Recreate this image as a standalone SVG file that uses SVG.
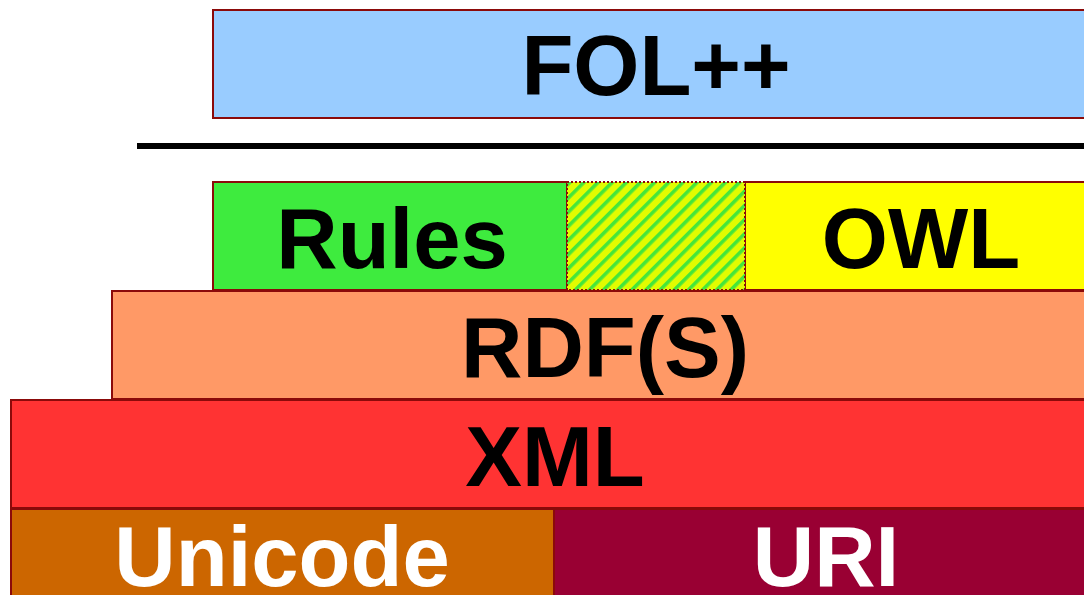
<svg xmlns="http://www.w3.org/2000/svg" width="1084" height="595" viewBox="0 0 1084 595">
  <style>
    .layer { stroke: #8b0a0a; stroke-width: 2; }
    .label { font-family: "Liberation Sans", Arial, sans-serif; font-weight: bold; font-size: 85px; text-anchor: middle; }
    .dark { fill: #000000; }
    .light { fill: #ffffff; }
  </style>
  <defs>
    <!-- diagonal green/yellow stripes for the shared Rules/OWL zone -->
    <pattern id="stripes" patternUnits="userSpaceOnUse" width="10" height="10" patternTransform="rotate(45)">
      <rect x="0" y="0" width="10" height="10" fill="#e2fc00"/>
      <rect x="0" y="0" width="3.6" height="10" fill="#45e63a"/>
    </pattern>
  </defs>
  <rect width="1084" height="595" fill="#ffffff"/>

  <g id="fol">
    <rect class="layer" x="213" y="10" width="886" height="108" fill="#99ccff"/>
    <text class="label dark" x="656" y="95">FOL++</text>
  </g>

  <g id="separator">
    <line x1="137" y1="146" x2="1090" y2="146" stroke="#000000" stroke-width="6"/>
  </g>

  <g id="rules">
    <rect class="layer" x="213" y="182" width="354" height="108" fill="#3eeb3e"/>
    <text class="label dark" x="392" y="268">Rules</text>
  </g>

  <g id="owl">
    <rect class="layer" x="745" y="182" width="354" height="108" fill="#ffff00"/>
    <text class="label dark" x="921" y="268">OWL</text>
  </g>

  <g id="overlap">
    <rect x="567" y="182" width="178" height="108" fill="url(#stripes)" stroke="#8b0a0a" stroke-width="2" stroke-dasharray="2 2"/>
  </g>

  <g id="rdfs">
    <rect class="layer" x="112" y="291" width="987" height="108" fill="#ff9966"/>
    <text class="label dark" x="605" y="377">RDF(S)</text>
  </g>

  <g id="xml">
    <rect class="layer" x="11" y="400" width="1088" height="108" fill="#ff3333"/>
    <text class="label dark" x="555" y="486">XML</text>
  </g>

  <g id="unicode">
    <rect class="layer" x="11" y="509" width="543" height="100" fill="#cc6600"/>
    <text class="label light" x="282" y="586">Unicode</text>
  </g>

  <g id="uri">
    <rect class="layer" x="554" y="509" width="545" height="100" fill="#990033"/>
    <text class="label light" x="826" y="586">URI</text>
  </g>
</svg>
